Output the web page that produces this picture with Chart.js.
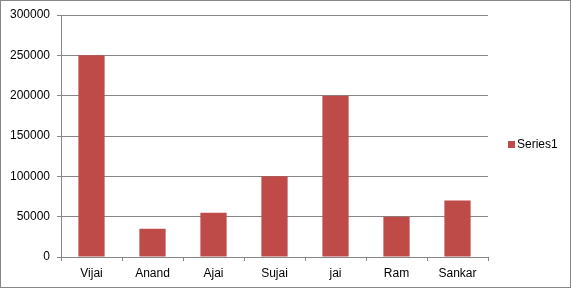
<!DOCTYPE html>
<html>
<head>
<meta charset="utf-8">
<script src="https://cdn.jsdelivr.net/npm/chart.js@4"></script>
<style>
  html, body { margin: 0; padding: 0; background: #fff; }
  #wrap { width: 571px; height: 288px; position: relative; }
</style>
</head>
<body>
<div id="wrap"><canvas id="chart"></canvas></div>
<script>
const categories = ['Vijai', 'Anand', 'Ajai', 'Sujai', 'jai', 'Ram', 'Sankar'];
const series1 = [250000, 35000, 55000, 100000, 200000, 50000, 70000];
const seriesName = 'Series1';
const barColor = '#BE4B48';
const lineColor = '#868686';
const fontFamily = '"Liberation Sans", Arial, sans-serif';

// outer frame + legend on the right, Excel style
const frameAndLegend = {
  id: 'frameAndLegend',
  afterDraw(chart) {
    const ctx = chart.ctx;
    ctx.save();
    ctx.strokeStyle = lineColor;
    ctx.lineWidth = 1;
    ctx.strokeRect(0.5, 0.5, chart.width - 1, chart.height - 1);

    const ds = chart.data.datasets[0];
    const x = chart.chartArea.right + 20;
    const y = Math.round(chart.height / 2) + 1;
    ctx.fillStyle = ds.backgroundColor;
    ctx.fillRect(x, y - 4, 7, 7);
    ctx.fillStyle = '#000';
    ctx.font = '12px ' + fontFamily;
    ctx.textBaseline = 'middle';
    ctx.fillText(ds.label, x + 9, y);
    ctx.restore();
  }
};

new Chart(document.getElementById('chart'), {
  type: 'bar',
  data: {
    labels: categories,
    datasets: [{
      label: seriesName,
      data: series1,
      backgroundColor: barColor,
      borderWidth: 0,
      categoryPercentage: 1,
      barPercentage: 0.43,
    }],
  },
  options: {
    responsive: true,
    maintainAspectRatio: false,
    animation: false,
    layout: { padding: { top: 15, right: 83, bottom: 0, left: 0 } },
    plugins: {
      legend: { display: false },
      tooltip: { enabled: false },
    },
    scales: {
      x: {
        grid: {
          drawOnChartArea: false,
          drawTicks: true,
          tickLength: 4,
          color: lineColor,
        },
        border: { color: lineColor },
        ticks: {
          color: '#000',
          font: { family: fontFamily, size: 12 },
          padding: 5,
          maxRotation: 0,
        },
        afterFit(scale) { scale.height = 31; },
      },
      y: {
        min: 0,
        max: 300000,
        grid: { color: lineColor, tickLength: 4 },
        border: { color: lineColor },
        ticks: {
          stepSize: 50000,
          color: '#000',
          font: { family: fontFamily, size: 12 },
          padding: 7,
          callback: (v) => String(v),
        },
        afterFit(scale) { scale.width = 61; },
      },
    },
  },
  plugins: [frameAndLegend],
});
</script>
</body>
</html>
